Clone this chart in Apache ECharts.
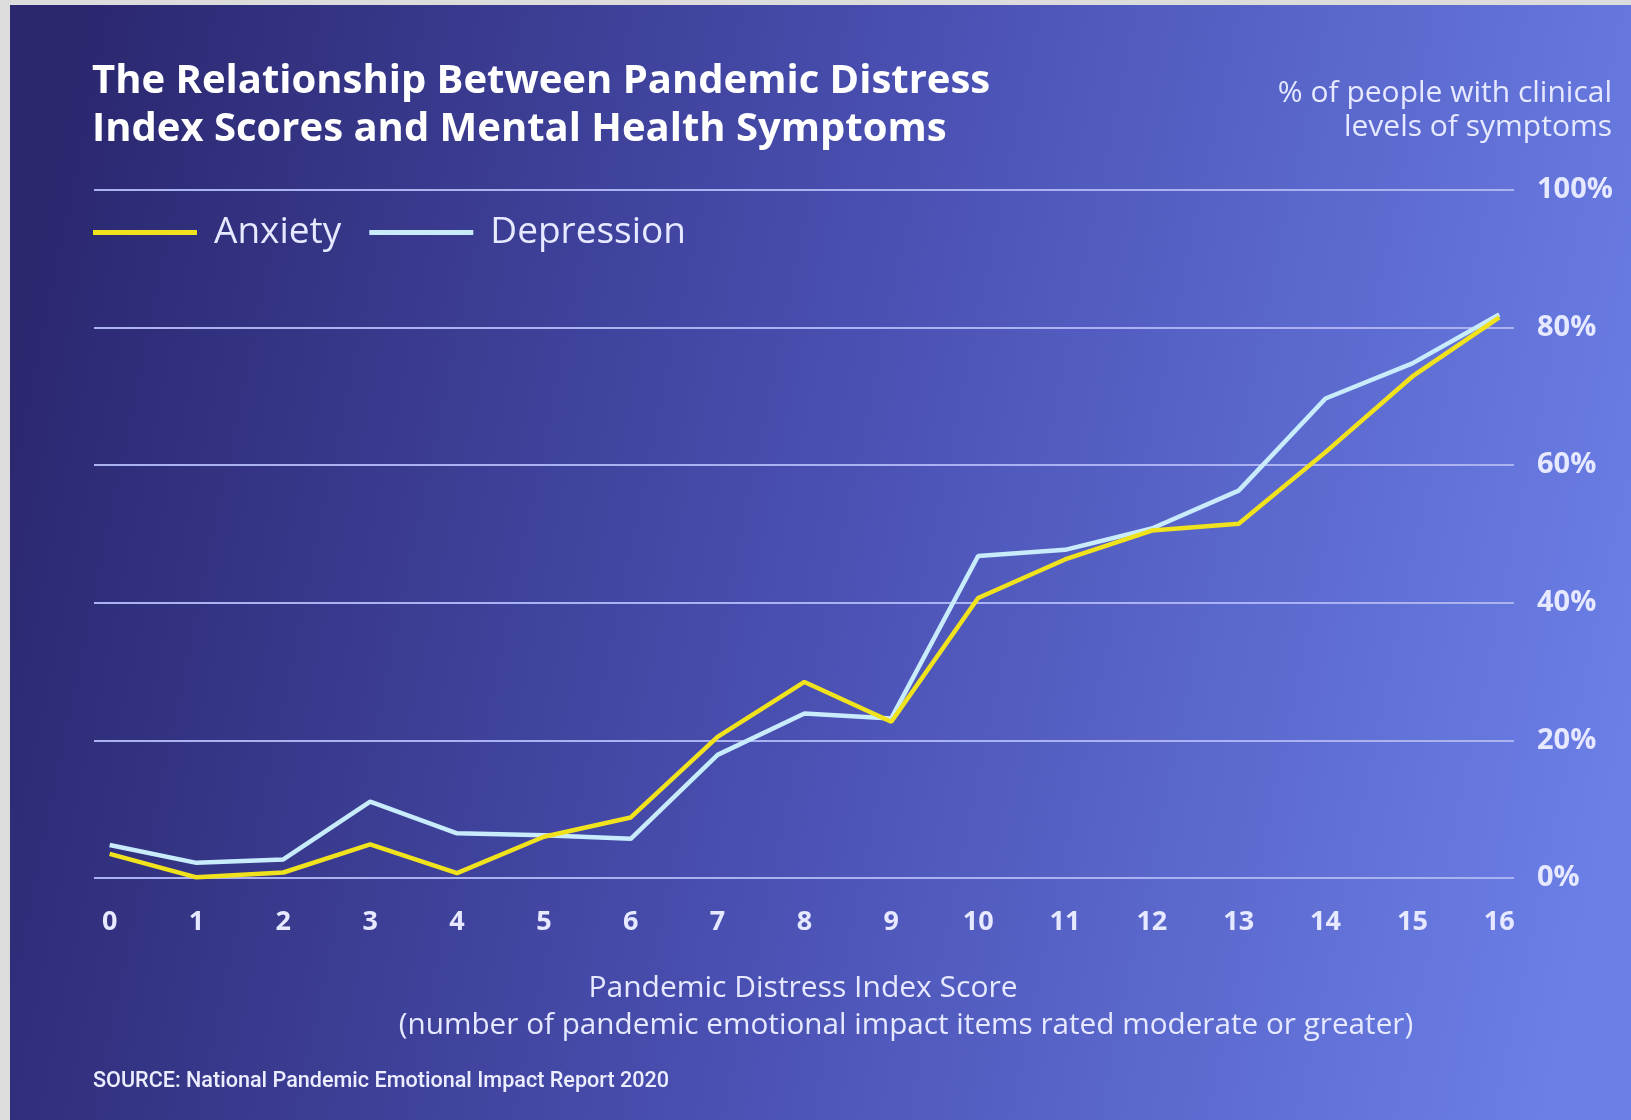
<!DOCTYPE html>
<html>
<head>
<meta charset="utf-8">
<title>Pandemic Distress Index and Mental Health Symptoms</title>
<script src="https://cdn.jsdelivr.net/npm/echarts@6/dist/echarts.min.js"></script>
<style>
  html, body { margin: 0; padding: 0; background: #dcdcdc; }
  #chart { position: absolute; left: 0; top: 0; width: 1631px; height: 1120px; }
</style>
</head>
<body>
<div id="chart"></div>
<script>
// Pandemic Distress Index score (0-16)
const scores = [0, 1, 2, 3, 4, 5, 6, 7, 8, 9, 10, 11, 12, 13, 14, 15, 16];
// % of people with clinical levels of symptoms at each score
const anxiety    = [3.5, 0.1, 0.8, 4.9, 0.7, 6.0, 8.8, 20.5, 28.5, 22.7, 40.7, 46.3, 50.5, 51.5, 61.9, 72.9, 81.5];
const depression = [4.8, 2.2, 2.7, 11.1, 6.5, 6.2, 5.7, 17.9, 23.9, 23.2, 46.8, 47.7, 50.8, 56.3, 69.7, 74.8, 81.9];
const yTicks = [0, 20, 40, 60, 80, 100];

const titleText = 'The Relationship Between Pandemic Distress\nIndex Scores and Mental Health Symptoms';
const yAxisTitle = ['% of people with clinical', 'levels of symptoms'];
const xAxisTitle = ['Pandemic Distress Index Score', '(number of pandemic emotional impact items rated moderate or greater)'];
const sourceText = 'SOURCE: National Pandemic Emotional Impact Report 2020';

const FONT = '"Open Sans", "Noto Sans", sans-serif';
const TEXT = '#e6e9ff';

const chart = echarts.init(document.getElementById('chart'), null, { renderer: 'canvas' });

const option = {
  backgroundColor: 'transparent',
  animation: false,
  title: {
    text: titleText,
    left: 92,
    top: 58,
    padding: 0,
    textStyle: { color: '#ffffff', fontFamily: FONT, fontWeight: 'bold', fontSize: 40, lineHeight: 48 }
  },
  legend: {
    left: 93,
    top: 214,
    padding: 0,
    icon: 'rect',
    itemWidth: 104,
    itemHeight: 5,
    itemGap: 28,
    data: ['Anxiety', 'Depression'],
    textStyle: { color: TEXT, fontFamily: FONT, fontSize: 37, padding: [0, 0, 0, 12] }
  },
  grid: { left: 94, right: 117, top: 190, bottom: 242, containLabel: false },
  xAxis: {
    type: 'value',
    min: -0.18,
    max: 16.17,
    axisLine: { show: false },
    axisTick: { show: false },
    splitLine: { show: false },
    axisLabel: {
      customValues: scores,
      margin: 31,
      color: TEXT,
      fontFamily: FONT,
      fontWeight: 'bold',
      fontSize: 27
    }
  },
  yAxis: {
    type: 'value',
    position: 'right',
    min: 0,
    max: 100,
    interval: 20,
    axisLine: { show: false },
    axisTick: { show: false },
    splitLine: { lineStyle: { color: '#aab2f2', width: 2 } },
    axisLabel: {
      customValues: yTicks,
      formatter: '{value}%',
      margin: 23,
      color: TEXT,
      fontFamily: FONT,
      fontWeight: 'bold',
      fontSize: 29
    }
  },
  graphic: [
    {
      type: 'rect',
      z: -100,
      silent: true,
      shape: { x: 10, y: 5, width: 1621, height: 1115 },
      style: {
        fill: new echarts.graphic.LinearGradient(0, 0.35, 1, 0.65, [
          { offset: 0, color: '#2b2870' },
          { offset: 0.5, color: '#4a50b2' },
          { offset: 1, color: '#6b7fe6' }
        ])
      }
    },
    {
      type: 'text', silent: true,
      style: { x: 1612, y: 93, text: yAxisTitle[0], fill: TEXT, font: '30px ' + FONT, align: 'right', verticalAlign: 'middle' }
    },
    {
      type: 'text', silent: true,
      style: { x: 1612, y: 127, text: yAxisTitle[1], fill: TEXT, font: '30px ' + FONT, align: 'right', verticalAlign: 'middle' }
    },
    {
      type: 'text', silent: true,
      style: { x: 803, y: 988, text: xAxisTitle[0], fill: TEXT, font: '30px ' + FONT, align: 'center', verticalAlign: 'middle' }
    },
    {
      type: 'text', silent: true,
      style: { x: 906, y: 1026, text: xAxisTitle[1], fill: TEXT, font: '29.7px ' + FONT, align: 'center', verticalAlign: 'middle' }
    },
    {
      type: 'text', silent: true,
      style: { x: 93, y: 1082, text: sourceText, fill: '#eceeff', font: '500 21.6px Roboto, "Noto Sans", sans-serif', align: 'left', verticalAlign: 'middle' }
    }
  ],
  series: [
    {
      name: 'Anxiety',
      type: 'line',
      z: 4,
      symbol: 'none',
      color: '#f0e21c',
      lineStyle: { width: 4.5, color: '#f0e21c' },
      data: scores.map((s, i) => [s, anxiety[i]])
    },
    {
      name: 'Depression',
      type: 'line',
      z: 3,
      symbol: 'none',
      color: '#c8ecfb',
      lineStyle: { width: 4.5, color: '#c8ecfb' },
      data: scores.map((s, i) => [s, depression[i]])
    }
  ]
};

chart.setOption(option);
</script>
</body>
</html>
